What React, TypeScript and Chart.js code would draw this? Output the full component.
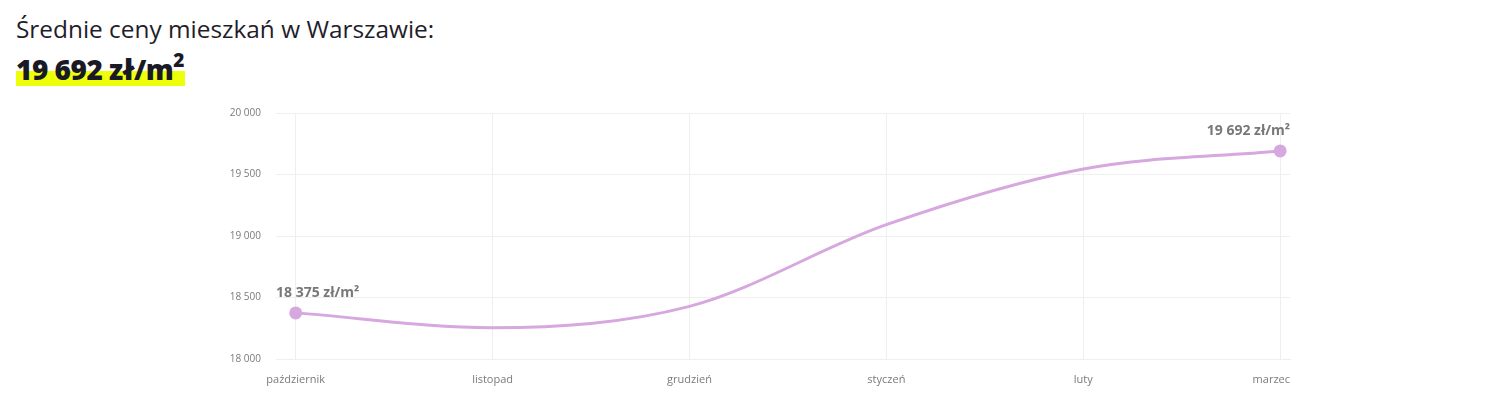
import React, { useEffect, useRef } from "react";
import { Chart, registerables } from "chart.js";

Chart.register(...registerables);

const months = ["październik", "listopad", "grudzień", "styczeń", "luty", "marzec"];
const prices = [18375, 18255, 18428, 19092, 19545, 19692];
const yTicks = [18000, 18500, 19000, 19500, 20000];
const labeledPoints = [0, 5];
const headline = "19 692 zł/m";

const FONT = "'Open Sans', 'DejaVu Sans', sans-serif";

const fmt = (n: number) => String(Math.round(n)).replace(/\B(?=(\d{3})+(?!\d))/g, " ");

const valueLabels = {
  id: "valueLabels",
  afterDatasetsDraw(chart: any) {
    const { ctx, chartArea } = chart;
    const meta = chart.getDatasetMeta(0);
    ctx.save();
    ctx.font = `700 14px ${FONT}`;
    ctx.fillStyle = "#787878";
    ctx.textBaseline = "middle";
    ctx.textAlign = "left";
    labeledPoints.forEach((i) => {
      const pt = meta.data[i];
      if (!pt) return;
      const text = `${fmt(prices[i])} zł/m²`;
      const w = ctx.measureText(text).width;
      let x = pt.x - w / 2;
      x = Math.max(chartArea.left, Math.min(chartArea.right - w, x));
      ctx.fillText(text, x, pt.y - 20);
    });
    ctx.restore();
  },
};

const monthLabels = {
  id: "monthLabels",
  afterDraw(chart: any) {
    const { ctx, chartArea } = chart;
    const xs = chart.scales.x;
    ctx.save();
    ctx.font = `400 11px ${FONT}`;
    ctx.fillStyle = "#7a7a7a";
    ctx.textBaseline = "middle";
    ctx.textAlign = "left";
    months.forEach((m, i) => {
      const px = xs.getPixelForValue(i);
      const w = ctx.measureText(m).width;
      let x = px - w / 2;
      x = Math.min(chartArea.right - w, x);
      ctx.fillText(m, x, chartArea.bottom + 21);
    });
    ctx.restore();
  },
};

function PriceChart() {
  const ref = useRef<HTMLCanvasElement>(null);
  useEffect(() => {
    if (!ref.current) return;
    const chart = new Chart(ref.current, {
      type: "line",
      data: {
        datasets: [
          {
            data: prices.map((v, i) => ({ x: i, y: v })),
            borderColor: "#d6a8df",
            backgroundColor: "#d6a8df",
            borderWidth: 3,
            cubicInterpolationMode: "monotone",
            pointRadius: prices.map((_, i) => (labeledPoints.includes(i) ? 6.5 : 0)),
            pointHoverRadius: 6.5,
            pointBorderWidth: 0,
            fill: false,
          },
        ],
      },
      options: {
        animation: false,
        responsive: false,
        maintainAspectRatio: false,
        layout: { autoPadding: false, padding: { left: 208, right: 190, top: 13, bottom: 11 } },
        plugins: { legend: { display: false }, tooltip: { enabled: false } },
        scales: {
          x: {
            type: "linear",
            min: -0.1,
            max: 5.05,
            afterBuildTicks: (s: any) => {
              s.ticks = months.map((_, i) => ({ value: i }));
            },
            afterFit: (s: any) => {
              s.height = 30;
            },
            grid: { color: "#efefef", drawTicks: false },
            border: { color: "#efefef" },
            ticks: { display: false },
          },
          y: {
            min: 18000,
            max: 20000,
            afterBuildTicks: (s: any) => {
              s.ticks = yTicks.map((v) => ({ value: v }));
            },
            afterFit: (s: any) => {
              s.width = 60;
            },
            grid: { color: "#efefef", drawTicks: false },
            border: { display: false },
            ticks: {
              color: "#7a7a7a",
              font: { family: FONT, size: 10 },
              padding: 15,
              callback: (v: any) => fmt(Number(v)),
            },
          },
        },
      },
      plugins: [valueLabels, monthLabels],
    } as any);
    return () => chart.destroy();
  }, []);
  return <canvas ref={ref} width={1472} height={308} style={{ display: "block" }} />;
}

export default function App() {
  return (
    <div style={{ position: "relative", height: 392, fontFamily: FONT }}>
      <div
        style={{
          position: "absolute",
          left: 8,
          top: 6,
          fontSize: 24.4,
          lineHeight: "30px",
          color: "#1f1d2b",
          whiteSpace: "nowrap",
        }}
      >
        Średnie ceny mieszkań w Warszawie:
      </div>
      <div
        style={{
          position: "absolute",
          left: 8,
          top: 42,
          fontSize: 28,
          fontWeight: 800,
          lineHeight: "38px",
          color: "#1a1a24",
          whiteSpace: "nowrap",
          letterSpacing: -0.5,
          background: "linear-gradient(to bottom, transparent 56%, #eeff0a 56%, #eeff0a 94%, transparent 94%)",
          paddingRight: 1,
        }}
      >
        {headline}
        <sup style={{ fontSize: 19, lineHeight: 0, verticalAlign: "0.7em" }}>2</sup>
      </div>
      <div style={{ position: "absolute", left: 0, top: 84 }}>
        <PriceChart />
      </div>
    </div>
  );
}
